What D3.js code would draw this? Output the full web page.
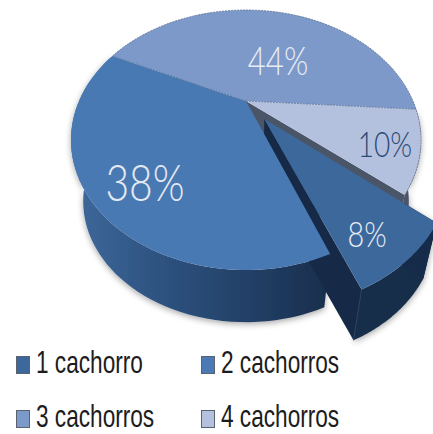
<!DOCTYPE html>
<html>
<head>
<meta charset="utf-8">
<script src="https://cdn.jsdelivr.net/npm/d3@7"></script>
<style>
html, body { margin: 0; padding: 0; background: #fff; }
svg { display: block; }
.legend text { font-family: "Liberation Sans", sans-serif; font-size: 31px; fill: #1c1c1c; }
.pct { font-family: "Lato", "Open Sans", sans-serif; font-weight: 300; text-anchor: middle; }
</style>
</head>
<body>
<div id="vis"></div>
<script>
var categories = ["1 cachorro", "2 cachorros", "3 cachorros", "4 cachorros"];
var shares = [8, 38, 44, 10];
var sliceColors = ["#3d689c", "#4a79b3", "#7b99c9", "#b4c1de"];

var width = 433, height = 434;

//tilt of the disc, worked out from where the slice edges hit the rim
var cx = 246, cy = 101, rx = 167, ry = 118.3, tilt = 0.3;
var startDeg = 129.9;
var explode = 0.18;
var bottomScale = 0.93, bottomDrop = 64;

var svg = d3.select("#vis").append("svg")
    .attr("width", width)
    .attr("height", height);

var defs = svg.append("defs");

var sideGrad = defs.append("linearGradient").attr("id", "sideGrad");
sideGrad.append("stop").attr("offset", "0%").attr("stop-color", "#3f6a9c");
sideGrad.append("stop").attr("offset", "30%").attr("stop-color", "#2f5583");
sideGrad.append("stop").attr("offset", "70%").attr("stop-color", "#223f66");
sideGrad.append("stop").attr("offset", "100%").attr("stop-color", "#182e4c");

var shadow = defs.append("filter").attr("id", "soft")
    .attr("x", "-10%").attr("y", "-10%").attr("width", "120%").attr("height", "125%");
shadow.append("feDropShadow")
    .attr("dx", 0).attr("dy", 2).attr("stdDeviation", 3)
    .attr("flood-color", "#000").attr("flood-opacity", 0.35);

var blur = defs.append("filter").attr("id", "blur");
blur.append("feGaussianBlur").attr("stdDeviation", 0.4);

var pie = d3.pie().sort(null)
    .startAngle(startDeg * Math.PI / 180)
    .endAngle((startDeg + 360) * Math.PI / 180);
var arcs = pie(shares);

var xScale = d3.scaleLinear().domain([-1, 1]).range([cx - rx, cx + rx]);
var yScale = d3.scaleLinear().domain([-1, 1]).range([cy - ry, cy + ry]);

//disc coordinates (u right, v toward the viewer) to screen
function project(u, v, bottom) {
    var w = 1 - tilt * v;
    var x = xScale(u / w), y = yScale(v / w);
    if (bottom) {
        x = cx + (x - cx) * bottomScale;
        y = cy + (y - cy) * bottomScale + bottomDrop;
    }
    return [x, y];
}

function offsetOf(d) {
    if (d.index !== 0) return [0, 0];
    var mid = (d.startAngle + d.endAngle) / 2;
    return [explode * Math.sin(mid), -explode * Math.cos(mid)];
}

function rimPoints(d, a0, a1, bottom) {
    var off = offsetOf(d);
    return d3.range(0, 61).map(function (i) {
        var a = a0 + (a1 - a0) * i / 60;
        return project(off[0] + Math.sin(a), off[1] - Math.cos(a), bottom);
    });
}

function apexPoint(d, bottom) {
    var off = offsetOf(d);
    return project(off[0], off[1], bottom);
}

var line = d3.line();

function topPath(d) {
    return line([apexPoint(d, false)].concat(rimPoints(d, d.startAngle, d.endAngle, false))) + "Z";
}

function sidePath(d, a0, a1) {
    var upper = rimPoints(d, a0, a1, false);
    var lower = rimPoints(d, a0, a1, true).reverse();
    return line(upper.concat(lower)) + "Z";
}

function wallPath(d, angle) {
    var off = offsetOf(d);
    var rimTop = project(off[0] + Math.sin(angle), off[1] - Math.cos(angle), false);
    var rimBottom = project(off[0] + Math.sin(angle), off[1] - Math.cos(angle), true);
    return line([apexPoint(d, false), rimTop, rimBottom, apexPoint(d, true)]) + "Z";
}

var one = arcs[0], two = arcs[1], three = arcs[2], four = arcs[3];

var pieGroup = svg.append("g").attr("filter", "url(#blur)");

//side walls first, tops go over them
var sides = pieGroup.append("g").attr("filter", "url(#soft)");

sides.append("path")
    .attr("d", sidePath(four, four.startAngle, four.endAngle))
    .attr("fill", "#4b5468");

sides.append("path")
    .attr("d", sidePath(two, two.startAngle, two.endAngle))
    .attr("fill", "url(#sideGrad)");

sides.append("path")
    .attr("d", sidePath(one, one.startAngle, one.endAngle))
    .attr("fill", "#182d4a");

sides.append("path")
    .attr("d", wallPath(one, one.startAngle))
    .attr("fill", "#14294a");

pieGroup.append("path")
    .attr("d", wallPath(four, four.endAngle))
    .attr("fill", "#4b5468");

//the dark wall of the pulled out slice, in front of the 2 cachorros side
pieGroup.append("path")
    .attr("d", wallPath(one, one.endAngle))
    .attr("fill", "#152a47");

var corner = rimPoints(one, one.endAngle, one.endAngle, false)[0];
var cornerLow = rimPoints(one, one.endAngle, one.endAngle, true)[0];
pieGroup.append("line")
    .attr("x1", corner[0]).attr("y1", corner[1])
    .attr("x2", cornerLow[0]).attr("y2", cornerLow[1])
    .attr("stroke", "#25405f").attr("stroke-width", 1);

[two, three, four, one].forEach(function (d) {
    pieGroup.append("path")
        .attr("d", topPath(d))
        .attr("fill", sliceColors[d.index]);
});

//thin dashed outline the light slices have
[three, four].forEach(function (d) {
    pieGroup.append("path")
        .attr("d", line([apexPoint(d, false)].concat(rimPoints(d, d.startAngle, d.endAngle, false))))
        .attr("fill", "none")
        .attr("stroke", "#5f7394")
        .attr("stroke-width", 0.8)
        .attr("stroke-dasharray", "2 1");
});

//label centres on the picture, same order as the shares
var labelAt = [[367, 247], [145, 201], [278, 75], [385, 157]];
var labelSize = [36, 51, 39, 35];
var labelColor = ["#e8edf5", "#e4e9f2", "#e8edf5", "#2c4a75"];
var labelSqueeze = 0.8; //no condensed face installed, so squeeze the glyphs

svg.append("g").selectAll("text")
    .data(shares)
    .enter()
    .append("text")
    .attr("class", "pct")
    .attr("transform", function (d, i) {
        return "translate(" + labelAt[i][0] + "," + labelAt[i][1] + ") scale(" + labelSqueeze + ",1)";
    })
    .attr("font-size", function (d, i) { return labelSize[i]; })
    .attr("fill", function (d, i) { return labelColor[i]; })
    .text(function (d) { return d + "%"; });

//legend, two by two
var legendX = d3.scalePoint().domain([0, 1]).range([16, 201]);
var legendY = d3.scalePoint().domain([0, 1]).range([356, 410]);

var legend = svg.append("g").attr("class", "legend").selectAll("g")
    .data(categories)
    .enter()
    .append("g")
    .attr("transform", function (d, i) {
        return "translate(" + legendX(i % 2) + "," + legendY(Math.floor(i / 2)) + ")";
    });

legend.append("rect")
    .attr("x", 0.5)
    .attr("y", 0.5)
    .attr("width", 13)
    .attr("height", 17)
    .attr("fill", function (d, i) { return sliceColors[i]; })
    .attr("stroke", "#5a6270")
    .attr("stroke-width", 1);

legend.append("text")
    .attr("transform", "translate(20,17) scale(0.73,1)")
    .text(function (d) { return d; });
</script>
</body>
</html>
